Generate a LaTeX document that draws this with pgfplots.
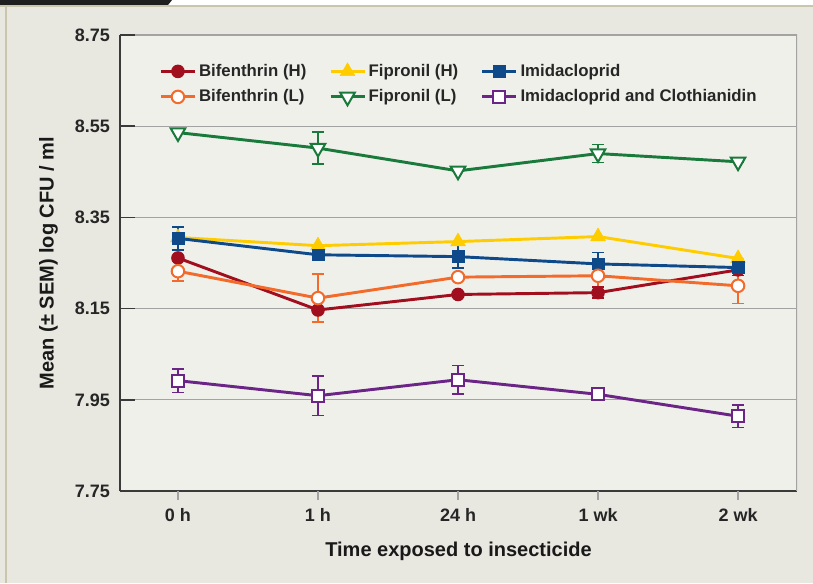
\documentclass[border=0pt]{standalone}
\usepackage{pgfplots}
\pgfplotsset{compat=1.18}
\usepackage{fontspec}
\setmainfont{Liberation Sans}

\definecolor{panelbg}{HTML}{E8E7E0}
\definecolor{plotbg}{HTML}{F0F0EB}
\definecolor{rimbeige}{HTML}{C9C6AC}
\definecolor{gridgray}{HTML}{A3A3A3}
\definecolor{axisdark}{HTML}{3A3A3A}
\definecolor{bifH}{HTML}{A10F1E}
\definecolor{bifL}{HTML}{F26B2B}
\definecolor{fipH}{HTML}{FFCC00}
\definecolor{fipL}{HTML}{1A7A3C}
\definecolor{imid}{HTML}{0E4A8A}
\definecolor{imcl}{HTML}{6B2586}

\begin{document}
\begin{tikzpicture}
% page frame (1px = 0.75pt)
\useasboundingbox (0,0) rectangle (609.75pt,437.25pt);
\fill[white] (0,0) rectangle (609.75pt,437.25pt);
\fill[panelbg] (0,0) rectangle (609.75pt,433.5pt);
\fill[rimbeige] (0,432pt) rectangle (609.75pt,433.5pt);
\fill[rimbeige] (3.75pt,0) rectangle (5.25pt,433.5pt);
\fill[black!88] (0,433.5pt) -- (126pt,433.5pt) -- (129pt,437.25pt) -- (0,437.25pt) -- cycle;

\begin{axis}[
  at={(90pt,69pt)}, anchor=south west,
  scale only axis, width=507.75pt, height=342pt,
  xmin=-0.414, xmax=4.421, ymin=7.75, ymax=8.75,
  axis background/.style={fill=plotbg},
  axis x line*=bottom, axis y line*=left,
  axis line style={-, draw=axisdark, line width=1.1pt},
  ytick={7.75,7.95,8.15,8.35,8.55,8.75},
  yticklabels={7.75,7.95,8.15,8.35,8.55,8.75},
  ymajorgrids, grid style={draw=gridgray, line width=0.9pt},
  tick align=inside, major tick length=0pt,
  xtick=\empty,
  extra x ticks={0,1,2,3,4},
  extra x tick labels={0 h,1 h,24 h,1 wk,2 wk},
  extra x tick style={tick align=outside, major tick length=6.75pt,
    tick style={draw=gridgray, line width=0.9pt}, grid=none},
  tick label style={font=\fontsize{13.5}{15}\selectfont\bfseries, text=black!85},
  yticklabel style={xshift=-4pt},
  xticklabel style={yshift=-3pt},
  /pgf/number format/assume math mode=true,
  xlabel={Time exposed to insecticide},
  ylabel={Mean (± SEM) log CFU / ml},
  label style={font=\fontsize{15}{17}\selectfont\bfseries, text=black!90},
  xlabel style={yshift=-8pt},
  ylabel style={yshift=6pt},
  legend columns=3,
  legend cell align=left,
  legend style={at={(0.052,0.948)}, anchor=north west, draw=none, fill=none,
    font=\fontsize{12.6}{14}\selectfont\bfseries, text=black!85,
    row sep=4.5pt,
    /tikz/every even column/.append style={column sep=15pt}},
  legend image code/.code={\draw[mark repeat=2,mark phase=2]
    plot coordinates {(0pt,0pt) (12.75pt,0pt) (25.5pt,0pt)};},
  every axis plot/.append style={line width=2.2pt},
  error bars/y dir=both, error bars/y explicit,
  error bars/error bar style={line width=1.2pt},
  error bars/error mark options={rotate=90, mark size=4.2pt, line width=1.2pt},
]
% top and right frame of the plotting area
\draw[gridgray, line width=0.9pt] (rel axis cs:0,1) -- (rel axis cs:1,1) -- (rel axis cs:1,0);
% short dark tick stubs on the value axis
\pgfplotsinvokeforeach{7.75,7.95,8.15,8.35,8.55,8.75}{
  \draw[axisdark, line width=1.1pt] (axis cs:-0.414,#1) -- ++(11.25pt,0pt);
}

\addplot[color=bifH, mark=*, mark size=4.7pt, mark options={fill=bifH, line width=0.8pt}]
  coordinates {(0,8.261) +- (0,0) (1,8.147) +- (0,0.025) (2,8.181) +- (0,0) (3,8.185) +- (0,0.012) (4,8.235) +- (0,0.012)};
\addlegendentry{Bifenthrin (H)}

\addplot[color=fipH, mark=triangle*, mark size=6.3pt, mark options={fill=fipH, line width=0.5pt}]
  coordinates {(0,8.306) +- (0,0) (1,8.288) +- (0,0) (2,8.297) +- (0,0) (3,8.308) +- (0,0) (4,8.260) +- (0,0)};
\addlegendentry{Fipronil (H)}

\addplot[color=imid, mark=square*, mark size=4.4pt, mark options={fill=imid, line width=0.5pt}]
  coordinates {(0,8.304) +- (0,0.025) (1,8.268) +- (0,0) (2,8.264) +- (0,0.025) (3,8.248) +- (0,0.025) (4,8.240) +- (0,0)};
\addlegendentry{Imidacloprid}

\addplot[color=bifL, mark=*, mark size=4.7pt, mark options={fill=white, line width=1.5pt}]
  coordinates {(0,8.232) +- (0,0.021) (1,8.173) +- (0,0.053) (2,8.219) +- (0,0) (3,8.222) +- (0,0.033) (4,8.200) +- (0,0.039)};
\addlegendentry{Bifenthrin (L)}

\addplot[color=fipL, mark=triangle*, mark size=6.3pt, mark options={fill=white, rotate=180, line width=1.5pt}]
  coordinates {(0,8.536) +- (0,0) (1,8.502) +- (0,0.035) (2,8.452) +- (0,0) (3,8.490) +- (0,0.02) (4,8.472) +- (0,0)};
\addlegendentry{Fipronil (L)}

\addplot[color=imcl, mark=square*, mark size=4.4pt, mark options={fill=white, line width=1.5pt}]
  coordinates {(0,7.992) +- (0,0.026) (1,7.959) +- (0,0.043) (2,7.994) +- (0,0.031) (3,7.962) +- (0,0) (4,7.914) +- (0,0.025)};
\addlegendentry{Imidacloprid and Clothianidin}
\end{axis}
\end{tikzpicture}
\end{document}
